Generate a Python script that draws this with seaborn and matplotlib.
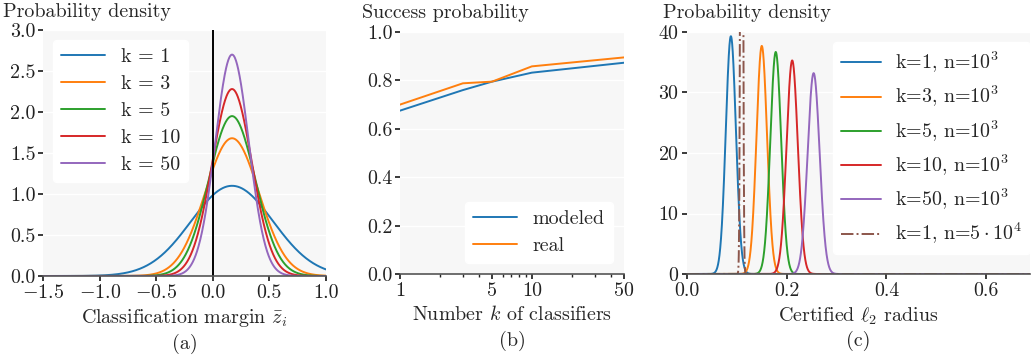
import numpy as np
import pandas as pd
import matplotlib
matplotlib.use("Agg")
import matplotlib.pyplot as plt
from matplotlib.ticker import FixedLocator, FixedFormatter, NullFormatter, LogLocator
import seaborn as sns

# ---- data -------------------------------------------------------------
# (a) distribution of the classification margin for ensembles of k classifiers
margin_k = [1, 3, 5, 10, 50]
margin_mean = [0.17, 0.17, 0.17, 0.17, 0.17]
margin_peak = [1.10, 1.68, 1.95, 2.28, 2.70]

# (b) success probability vs. number of classifiers
num_k = [1, 3, 5, 10, 50]
modeled = [0.675, 0.760, 0.795, 0.832, 0.873]
real = [0.700, 0.788, 0.795, 0.858, 0.895]

# (c) distribution of the certified radius
radius_labels = [r"k=1, n=$10^3$", r"k=3, n=$10^3$", r"k=5, n=$10^3$",
                 r"k=10, n=$10^3$", r"k=50, n=$10^3$", r"k=1, n=$5\cdot10^4$"]
radius_mean = [0.088, 0.150, 0.178, 0.211, 0.254, 0.1096]
radius_peak = [39.3, 37.7, 36.7, 35.3, 33.2, 200.0]

colors = ["#1f77b4", "#ff7f0e", "#2ca02c", "#d62728", "#9467bd", "#8c564b"]


def normal_density(x, mean, peak):
    sigma = 1.0 / (peak * np.sqrt(2 * np.pi))
    return peak * np.exp(-0.5 * ((x - mean) / sigma) ** 2)


# ---- style ------------------------------------------------------------
FS = 14.4
sns.set_theme(style="whitegrid", rc={
    "axes.facecolor": "#f7f7f7",
    "grid.color": "white",
    "grid.linewidth": 1.0,
    "axes.edgecolor": "#555555",
})
plt.rcParams.update({
    "font.family": "serif",
    "font.serif": ["cmr10", "DejaVu Serif"],
    "mathtext.fontset": "cm",
    "axes.formatter.use_mathtext": True,
    "font.size": FS,
    "axes.labelsize": FS,
    "xtick.labelsize": FS,
    "ytick.labelsize": FS,
    "legend.fontsize": FS,
    "xtick.bottom": True,
    "ytick.left": True,
    "xtick.major.size": 3.5,
    "ytick.major.size": 3.5,
    "xtick.minor.size": 2,
    "xtick.color": "#222222",
    "ytick.color": "#222222",
    "xtick.major.pad": 2,
    "ytick.major.pad": 2,
    "lines.linewidth": 1.4,
})

W, H = 1031, 360
fig = plt.figure(figsize=(W / 100, H / 100), dpi=100)


def frac(left, top, right, bottom):
    return [left / W, 1 - bottom / H, (right - left) / W, (bottom - top) / H]


ax_a = fig.add_axes(frac(43, 30, 326, 276))
ax_b = fig.add_axes(frac(400, 32, 624, 274))
ax_c = fig.add_axes(frac(687, 32, 1030, 274))

for ax in (ax_a, ax_b, ax_c):
    ax.grid(False, axis="x")
    ax.grid(True, axis="y")
    for s in ("top", "right", "left"):
        ax.spines[s].set_visible(False)
    ax.spines["bottom"].set_visible(True)
    ax.spines["bottom"].set_color("#555555")
    ax.spines["bottom"].set_linewidth(1.2)

legend_kw = dict(frameon=True, facecolor="white", edgecolor="white",
                 framealpha=1.0, fancybox=True, handlelength=2.2,
                 handletextpad=0.8, labelspacing=0.45, borderpad=0.4)

# ---- (a) --------------------------------------------------------------
xa = np.linspace(-1.5, 1.0, 800)
rows = []
for k, m, p in zip(margin_k, margin_mean, margin_peak):
    for x, y in zip(xa, normal_density(xa, m, p)):
        rows.append((x, y, f"k = {k}"))
df_a = pd.DataFrame(rows, columns=["x", "y", "series"])
sns.lineplot(data=df_a, x="x", y="y", hue="series", palette=colors[:5],
             ax=ax_a, linewidth=1.4, estimator=None, sort=False)
ax_a.axvline(0.0, color="black", linewidth=1.4)
ax_a.set_xlim(-1.5, 1.0)
ax_a.set_ylim(0, 3.0)
ax_a.set_xticks([-1.5, -1.0, -0.5, 0.0, 0.5, 1.0])
ax_a.set_yticks([0.0, 0.5, 1.0, 1.5, 2.0, 2.5, 3.0])
ax_a.yaxis.set_major_formatter(FixedFormatter(["0.0", "0.5", "1.0", "1.5", "2.0", "2.5", "3.0"]))
ax_a.set_xticklabels([r"$-1.5$", r"$-1.0$", r"$-0.5$", "0.0", "0.5", "1.0"])
ax_a.set_xlabel(r"Classification margin $\bar{z}_i$", labelpad=4)
ax_a.set_ylabel("")
ax_a.legend(title=None, loc="upper left", borderaxespad=0.5, **legend_kw)
ax_a.text(-0.141, 1.037, "Probability density", transform=ax_a.transAxes,
          ha="left", va="bottom")

# ---- (b) --------------------------------------------------------------
df_b = pd.DataFrame({
    "k": num_k * 2,
    "p": modeled + real,
    "series": ["modeled"] * len(num_k) + ["real"] * len(num_k),
})
sns.lineplot(data=df_b, x="k", y="p", hue="series", palette=colors[:2],
             ax=ax_b, linewidth=1.4, estimator=None)
ax_b.set_xscale("log")
ax_b.set_xlim(1, 50)
ax_b.set_ylim(0, 1.0)
ax_b.xaxis.set_major_locator(FixedLocator([1, 5, 10, 50]))
ax_b.xaxis.set_major_formatter(FixedFormatter(["1", "5", "10", "50"]))
ax_b.xaxis.set_minor_locator(LogLocator(base=10, subs=np.arange(2, 10)))
ax_b.xaxis.set_minor_formatter(NullFormatter())
ax_b.tick_params(axis="x", which="minor", bottom=True, length=2)
ax_b.set_yticks([0.0, 0.2, 0.4, 0.6, 0.8, 1.0])
ax_b.yaxis.set_major_formatter(FixedFormatter(["0.0", "0.2", "0.4", "0.6", "0.8", "1.0"]))
ax_b.set_xlabel(r"Number $k$ of classifiers", labelpad=4)
ax_b.set_ylabel("")
ax_b.legend(title=None, loc="lower right", borderaxespad=0.55, **legend_kw)
ax_b.text(-0.17, 1.041, "Success probability", transform=ax_b.transAxes,
          ha="left", va="bottom")

# ---- (c) --------------------------------------------------------------
xc = np.linspace(0.0, 0.7, 6000)
for i, (lab, m, p) in enumerate(zip(radius_labels, radius_mean, radius_peak)):
    yc = normal_density(xc, m, p)
    ls = "-." if i == 5 else "-"
    sns.lineplot(x=xc, y=yc, ax=ax_c, color=colors[i], linestyle=ls,
                 linewidth=1.4, label=lab, estimator=None, sort=False)
ax_c.set_xlim(0.0, 0.688)
ax_c.set_ylim(0, 40)
ax_c.set_xticks([0.0, 0.2, 0.4, 0.6])
ax_c.xaxis.set_major_formatter(FixedFormatter(["0.0", "0.2", "0.4", "0.6"]))
ax_c.set_yticks([0, 10, 20, 30, 40])
ax_c.set_xlabel(r"Certified $\ell_2$ radius", labelpad=4)
ax_c.set_ylabel("")
leg_c = dict(legend_kw)
leg_c.update(handlelength=2.0, handletextpad=0.7)
ax_c.legend(title=None, loc="upper right", bbox_to_anchor=(1.0, 1 - 10 / 242),
            borderaxespad=0.0, **leg_c)
ax_c.text(-0.07, 1.041, "Probability density", transform=ax_c.transAxes,
          ha="left", va="bottom")

# ---- panel captions ---------------------------------------------------
for ax, cap in ((ax_a, "(a)"), (ax_b, "(b)"), (ax_c, "(c)")):
    ax.text(0.5, -0.235, cap, transform=ax.transAxes, ha="center", va="top")

fig.savefig("out.png", dpi=100)
